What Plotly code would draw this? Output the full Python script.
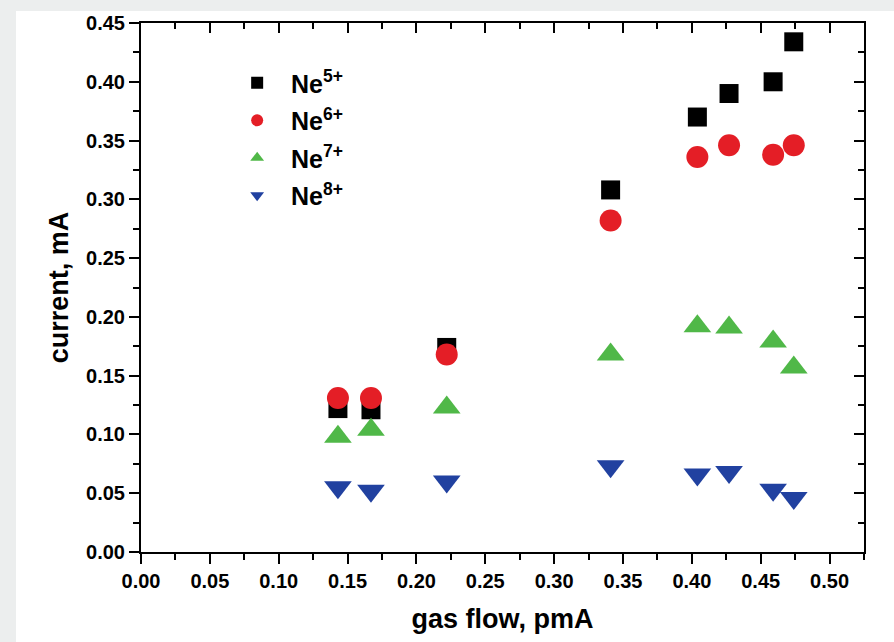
import plotly.graph_objects as go

gas_flow = [0.143, 0.167, 0.222, 0.341, 0.404, 0.427, 0.459, 0.474]
ne5 = [0.122, 0.121, 0.174, 0.308, 0.370, 0.390, 0.400, 0.434]
ne6 = [0.131, 0.131, 0.168, 0.282, 0.336, 0.346, 0.338, 0.346]
ne7 = [0.098, 0.104, 0.123, 0.168, 0.192, 0.191, 0.179, 0.157]
ne8 = [0.055, 0.052, 0.060, 0.073, 0.066, 0.068, 0.053, 0.046]

series_names = ["Ne<sup>5+</sup>", "Ne<sup>6+</sup>", "Ne<sup>7+</sup>", "Ne<sup>8+</sup>"]
series_values = [ne5, ne6, ne7, ne8]
symbols = ["square", "circle", "triangle-up", "triangle-down"]
colors = ["#000000", "#e41e26", "#50b848", "#2141a0"]
sizes = [19, 22, 24, 24]

FONT = "Liberation Sans, Arial, sans-serif"
PAD = "\u00a0\u00a0"

fig = go.Figure()
for i, (nm, vals) in enumerate(zip(series_names, series_values)):
    fig.add_trace(go.Scatter(
        x=gas_flow, y=vals, mode="markers", name=PAD + nm,
        legendgroup=f"g{i}",
        marker=dict(symbol=symbols[i], color=colors[i], size=sizes[i],
                    line=dict(width=0)),
    ))
# empty trace to activate mirror axes (top/right with inward ticks)
fig.add_trace(go.Scatter(x=[], y=[], xaxis="x2", yaxis="y2",
                         showlegend=False, hoverinfo="skip"))

XR = [0, 0.525]
YR = [0, 0.45]

tickfont = dict(family=FONT, size=20, color="black", weight="bold")
titlefont = dict(family=FONT, size=27, color="black", weight="bold")

common = dict(showline=True, linecolor="black", linewidth=2,
              showgrid=False, zeroline=False, ticklen=10, tickwidth=2,
              tickcolor="black", dtick=0.05, tick0=0, tickformat=".2f")

fig.update_layout(
    width=894, height=642,
    margin=dict(l=141, r=30, t=20, b=90),
    paper_bgcolor="#eceeee",
    plot_bgcolor="white",
    xaxis=dict(range=XR, ticks="outside", tickfont=tickfont,
               title=dict(text="gas flow, pmA", font=titlefont, standoff=18),
               minor=dict(dtick=0.025, ticks="outside", ticklen=6, tickwidth=2, tickcolor="black"),
               **common),
    yaxis=dict(range=YR, ticks="outside", tickfont=tickfont,
               title=dict(text="current, mA", font=titlefont, standoff=10),
               minor=dict(dtick=0.025, ticks="outside", ticklen=6, tickwidth=2, tickcolor="black"),
               **common),
    xaxis2=dict(range=XR, overlaying="x", side="top", anchor="y2", ticks="inside",
                showticklabels=False,
                minor=dict(dtick=0.025, ticks="inside", ticklen=6, tickwidth=2, tickcolor="black"),
                **common),
    yaxis2=dict(range=YR, overlaying="y", side="right", anchor="x2", ticks="inside",
                showticklabels=False,
                minor=dict(dtick=0.025, ticks="inside", ticklen=6, tickwidth=2, tickcolor="black"),
                **common),
    legend=dict(x=0.133, y=0.93, xanchor="left", yanchor="top",
                bgcolor="rgba(0,0,0,0)", borderwidth=0,
                font=dict(family=FONT, size=25, color="black", weight="bold"),
                itemsizing="constant", tracegroupgap=2),
    shapes=[dict(type="rect", xref="paper", yref="paper",
                 x0=(16 - 141) / 723, x1=(900 - 141) / 723,
                 y0=(552 - 650) / 532, y1=(552 - 8) / 532,
                 fillcolor="white", line=dict(width=0), layer="below")],
)

fig.write_html("out.html")
